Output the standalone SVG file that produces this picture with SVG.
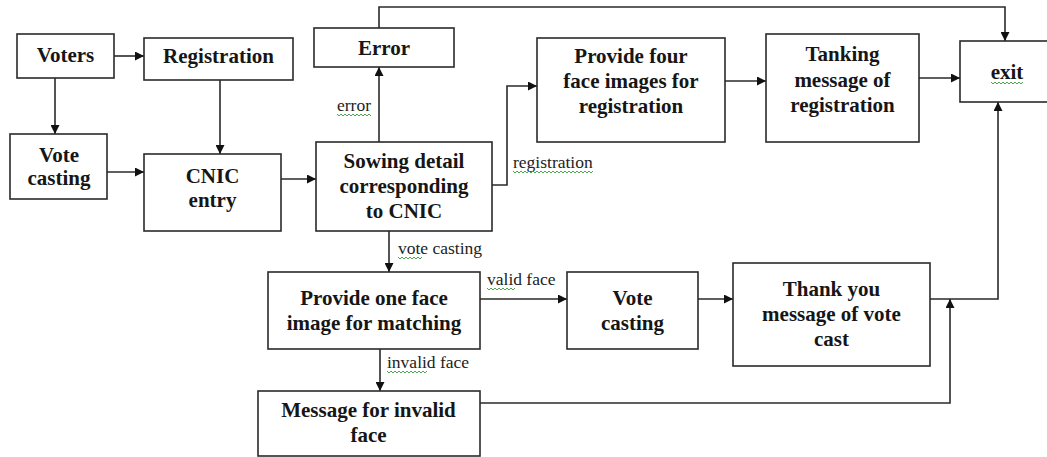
<svg xmlns="http://www.w3.org/2000/svg" width="1047" height="457" viewBox="0 0 1047 457" font-family="Liberation Serif, DejaVu Serif, serif">
  <style>
    .box { fill: #ffffff; stroke: #2a2a2a; stroke-width: 1.6; }
    .t { font-weight: bold; font-size: 21px; fill: #161616; text-anchor: middle; }
    .lbl { font-size: 17.5px; fill: #222222; }
    .edge { fill: none; stroke: #2a2a2a; stroke-width: 1.6; }
    .arr { marker-end: url(#head); }
    .wave { fill: none; stroke: #3c9a3c; stroke-width: 0.9; }
  </style>
  <defs>
    <marker id="head" viewBox="0 0 10 10" refX="10" refY="5" markerWidth="10" markerHeight="9" markerUnits="userSpaceOnUse" orient="auto">
      <path d="M0,0 L10,5 L0,10 z" fill="#111111"/>
    </marker>
  </defs>
  <rect width="1047" height="457" fill="#ffffff"/>

  <!-- connectors -->
  <g id="connectors">
    <path class="edge arr" d="M114,56 H144"/>
    <path class="edge arr" d="M55,78 V134"/>
    <path class="edge arr" d="M220,80 V154"/>
    <path class="edge arr" d="M107,172 H144"/>
    <path class="edge arr" d="M281,179 H316"/>
    <path class="edge arr" d="M379,142 V67"/>
    <path class="edge arr" d="M379,28 V7 H1005 V41"/>
    <path class="edge arr" d="M492,185 H507 V86 H537"/>
    <path class="edge arr" d="M725,81 H766"/>
    <path class="edge arr" d="M919,78 H960"/>
    <path class="edge arr" d="M389,231 V272"/>
    <path class="edge arr" d="M480,299 H567"/>
    <path class="edge arr" d="M380,349 V391"/>
    <path class="edge arr" d="M698,299 H733"/>
    <path class="edge arr" d="M930,299 H998 V102"/>
    <path class="edge arr" d="M480,403 H950 V299"/>

    <!-- edge labels -->
    <text class="lbl" x="337" y="111">error</text>
    <text class="lbl" x="513" y="168">registration</text>
    <text class="lbl" x="398" y="254">vote casting</text>
    <text class="lbl" x="487" y="285">valid face</text>
    <text class="lbl" x="387" y="368">invalid face</text>

    <!-- spell-check squiggles under labels -->
    <path class="wave" d="M337,114 l2,2 l2,-2 l2,2 l2,-2 l2,2 l2,-2 l2,2 l2,-2 l2,2 l2,-2 l2,2 l2,-2 l2,2 l2,-2 l2,2 l2,-2 l2,2"/>
    <path class="wave" d="M513,171 l2,2 l2,-2 l2,2 l2,-2 l2,2 l2,-2 l2,2 l2,-2 l2,2 l2,-2 l2,2 l2,-2 l2,2 l2,-2 l2,2 l2,-2 l2,2 l2,-2 l2,2 l2,-2 l2,2 l2,-2 l2,2 l2,-2 l2,2 l2,-2 l2,2 l2,-2 l2,2 l2,-2 l2,2 l2,-2 l2,2 l2,-2 l2,2 l2,-2 l2,2 l2,-2 l2,2 l2,-2"/>
    <path class="wave" d="M398,257 l2,2 l2,-2 l2,2 l2,-2 l2,2 l2,-2 l2,2 l2,-2 l2,2 l2,-2 l2,2 l2,-2"/>
    <path class="wave" d="M487,288 l2,2 l2,-2 l2,2 l2,-2 l2,2 l2,-2 l2,2 l2,-2 l2,2 l2,-2 l2,2 l2,-2 l2,2 l2,-2"/>
    <path class="wave" d="M387,371 l2,2 l2,-2 l2,2 l2,-2 l2,2 l2,-2 l2,2 l2,-2 l2,2 l2,-2 l2,2 l2,-2 l2,2 l2,-2 l2,2 l2,-2 l2,2 l2,-2 l2,2 l2,-2"/>
  </g>

  <g id="voters">
    <rect class="box" x="17" y="34" width="97" height="44"/>
    <text class="t" x="65.5" y="62">Voters</text>
  </g>
  <g id="registration">
    <rect class="box" x="144" y="38" width="149" height="42"/>
    <text class="t" x="218.5" y="63">Registration</text>
  </g>
  <g id="vote-casting-start">
    <rect class="box" x="10" y="134" width="97" height="65"/>
    <text class="t" x="59" y="162">Vote</text>
    <text class="t" x="59" y="185">casting</text>
  </g>
  <g id="cnic-entry">
    <rect class="box" x="144" y="154" width="137" height="77"/>
    <text class="t" x="212.5" y="183">CNIC</text>
    <text class="t" x="212.5" y="207">entry</text>
  </g>
  <g id="error">
    <rect class="box" x="314" y="28" width="140" height="39"/>
    <text class="t" x="384" y="55">Error</text>
  </g>
  <g id="sowing-detail">
    <rect class="box" x="316" y="142" width="176" height="89"/>
    <text class="t" x="404" y="168">Sowing detail</text>
    <text class="t" x="404" y="193">corresponding</text>
    <text class="t" x="404" y="218">to CNIC</text>
  </g>
  <g id="provide-four">
    <rect class="box" x="537" y="38" width="188" height="104"/>
    <text class="t" x="631" y="63">Provide four</text>
    <text class="t" x="631" y="88">face images for</text>
    <text class="t" x="631" y="113">registration</text>
  </g>
  <g id="tanking-message">
    <rect class="box" x="766" y="34" width="153" height="108"/>
    <text class="t" x="842.5" y="61">Tanking</text>
    <text class="t" x="842.5" y="87">message of</text>
    <text class="t" x="842.5" y="112">registration</text>
  </g>
  <g id="exit">
    <rect class="box" x="960" y="41" width="100" height="61"/>
    <text class="t" x="1007" y="79">exit</text>
    <path class="wave" d="M991,82 l2,2 l2,-2 l2,2 l2,-2 l2,2 l2,-2 l2,2 l2,-2 l2,2 l2,-2 l2,2 l2,-2 l2,2 l2,-2 l2,2 l2,-2"/>
  </g>
  <g id="provide-one">
    <rect class="box" x="268" y="272" width="212" height="77"/>
    <text class="t" x="374" y="305">Provide one face</text>
    <text class="t" x="374" y="330">image for matching</text>
  </g>
  <g id="vote-casting">
    <rect class="box" x="567" y="272" width="131" height="77"/>
    <text class="t" x="632.5" y="305">Vote</text>
    <text class="t" x="632.5" y="330">casting</text>
  </g>
  <g id="thank-you">
    <rect class="box" x="733" y="263" width="197" height="103"/>
    <text class="t" x="831.5" y="296">Thank you</text>
    <text class="t" x="831.5" y="321">message of vote</text>
    <text class="t" x="831.5" y="346">cast</text>
  </g>
  <g id="invalid-message">
    <rect class="box" x="258" y="391" width="222" height="65"/>
    <text class="t" x="368.5" y="417">Message for invalid</text>
    <text class="t" x="368.5" y="442">face</text>
  </g>
</svg>
